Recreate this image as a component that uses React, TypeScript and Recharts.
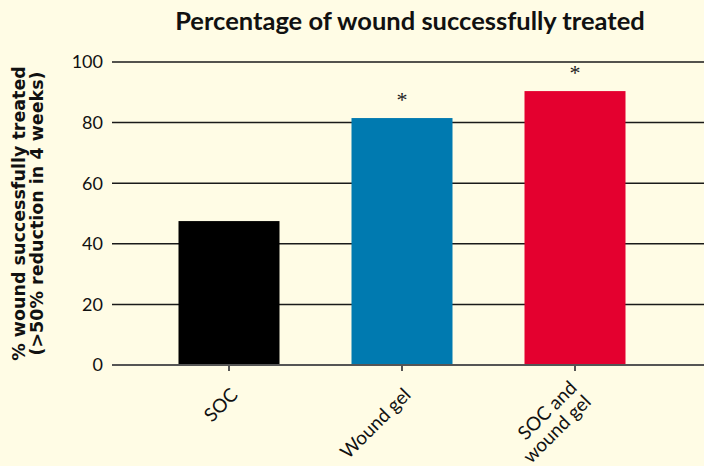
import React from "react";
import { BarChart, Bar, XAxis, YAxis, CartesianGrid, Label, LabelList } from "recharts";

const categories = ["SOC", "Wound gel", "SOC and\nwound gel"];
const treated = [47.5, 81.5, 90.4];
const significance = ["", "*", "*"];
const barColors = ["#000000", "#007AB0", "#E4002F"];
const yTicks = [0, 20, 40, 60, 80, 100];

const data = categories.map((name, i) => ({
  name,
  value: treated[i],
  sig: significance[i],
  color: barColors[i],
}));

const BG = "#FFFCE5";

function XTick(props: any) {
  const { x, y, payload } = props;
  const lines = String(payload.value).split("\n");
  const lh = 20;
  const first = -((lines.length - 1) / 2) * lh;
  return (
    <g transform={`translate(${x + 10},${y + 23})`}>
      <text
        transform="rotate(-45)"
        textAnchor="end"
        fontFamily="Lato"
        fontSize={19}
        fill="#111"
      >
        {lines.map((l, i) => (
          <tspan key={i} x={0} y={first + i * lh}>
            {l}
          </tspan>
        ))}
      </text>
    </g>
  );
}

function YTitle(props: any) {
  const vb = props.viewBox || { x: 0, y: 62, width: 112, height: 303 };
  const cy = vb.y + vb.height / 2;
  const lines = ["% wound successfully treated", "(>50% reduction in 4 weeks)"];
  const xs = [25, 43];
  return (
    <g>
      {lines.map((l, i) => (
        <text
          key={i}
          x={xs[i]}
          y={cy}
          transform={`rotate(-90, ${xs[i]}, ${cy})`}
          textAnchor="middle"
          fontFamily="DejaVu Sans"
          fontWeight="bold"
          fontSize={17.5}
          fill="#111"
        >
          {l}
        </text>
      ))}
    </g>
  );
}

function Star(props: any) {
  const { x, y, width, index } = props;
  const s = significance[index];
  if (!s) return null;
  return (
    <text
      x={x + width / 2}
      y={y - 11}
      textAnchor="middle"
      fontFamily="Liberation Serif"
      fontSize={22}
      fill="#222"
    >
      {s}
    </text>
  );
}

export default function App() {
  return (
    <div
      style={{
        position: "absolute",
        left: 0,
        top: 0,
        width: 704,
        height: 466,
        background: BG,
        overflow: "hidden",
      }}
    >
      <div
        style={{
          position: "absolute",
          left: 112,
          width: 596,
          top: 5,
          textAlign: "center",
          fontFamily: "Lato",
          fontWeight: 700,
          fontSize: 25.5,
          color: "#111",
          lineHeight: "30px",
        }}
      >
        Percentage of wound successfully treated
      </div>
      <BarChart
        width={704}
        height={466}
        data={data}
        margin={{ top: 62, right: 0, bottom: 41, left: 0 }}
      >
        <CartesianGrid vertical={false} stroke="#1a1a1a" strokeWidth={1.5} />
        <XAxis
          dataKey="name"
          height={60}
          padding={{ left: 30.5, right: 42.5 }}
          interval={0}
          tick={<XTick />}
          tickSize={6}
          axisLine={{ stroke: "#555", strokeWidth: 2 }}
          tickLine={{ stroke: "#555", strokeWidth: 2 }}
        />
        <YAxis
          width={112}
          domain={[0, 100]}
          ticks={yTicks}
          interval={0}
          axisLine={false}
          tickLine={false}
          tickMargin={3}
          tick={{ fontFamily: "Lato", fontSize: 18, fill: "#111" }}
        >
          <Label content={<YTitle />} />
        </YAxis>
        <Bar dataKey="value" barSize={101} isAnimationActive={false} shape={(p: any) => (
          <rect x={p.x} y={p.y} width={p.width} height={p.height} fill={p.payload.color} />
        )}>
          <LabelList dataKey="sig" content={<Star />} />
        </Bar>
      </BarChart>
    </div>
  );
}
